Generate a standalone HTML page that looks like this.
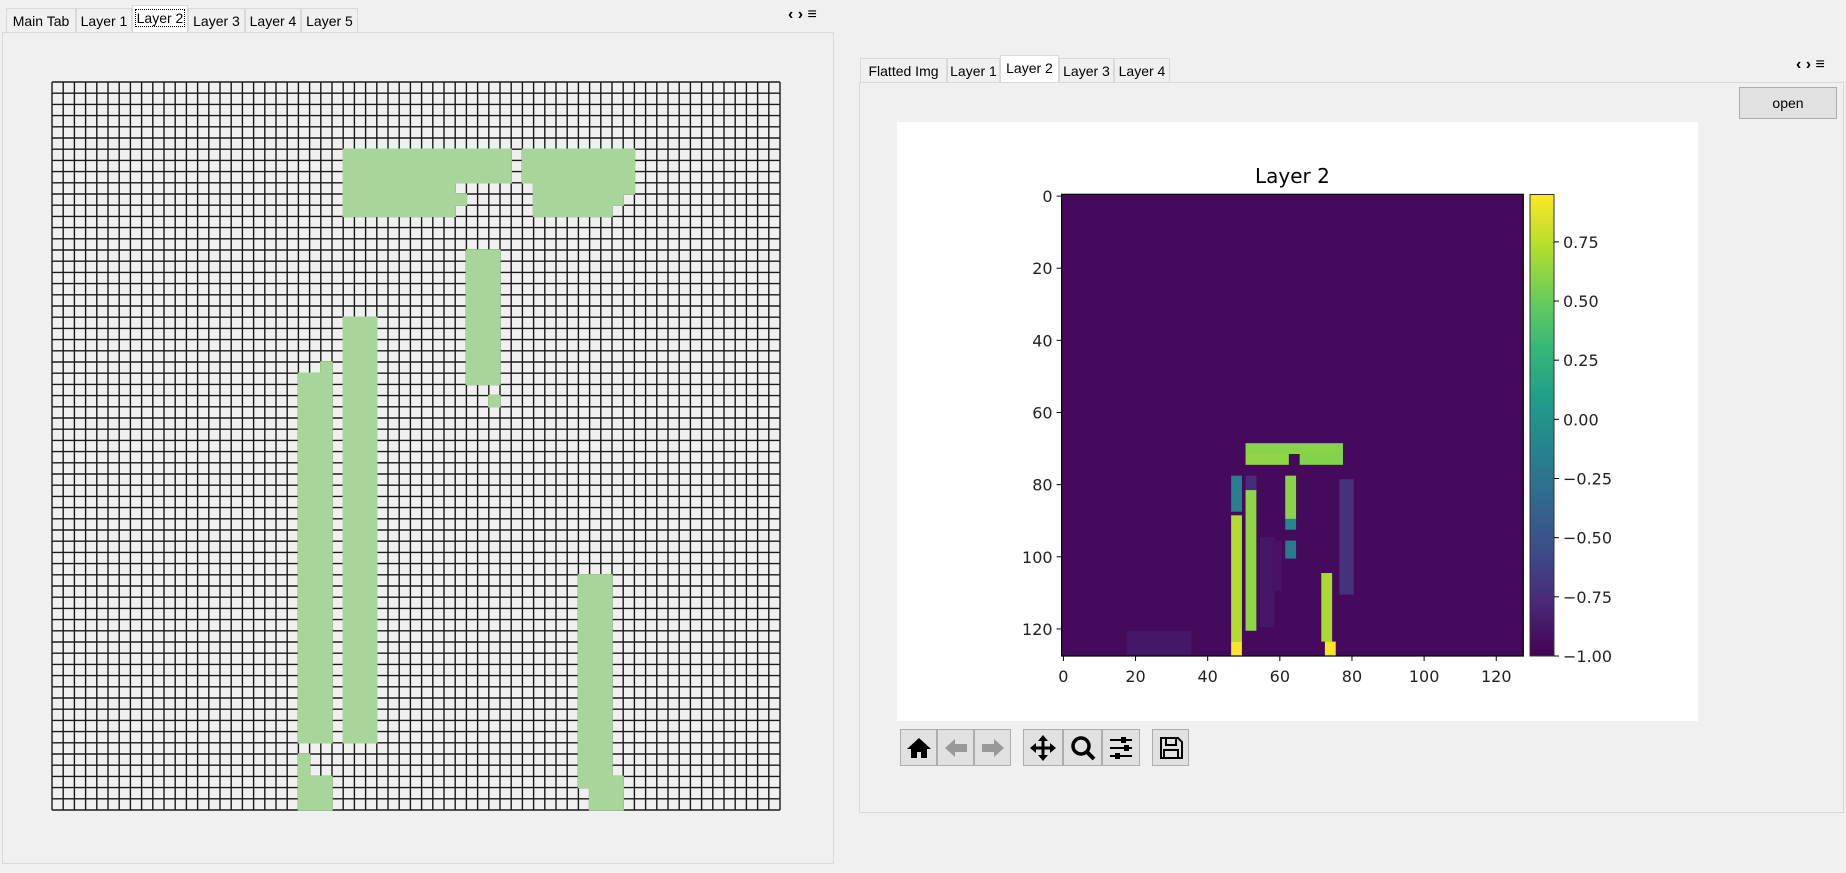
<!DOCTYPE html>
<html><head><meta charset="utf-8"><style>
html,body{margin:0;padding:0;}
body{width:1846px;height:873px;background:#f0f0f0;position:relative;overflow:hidden;font-family:"Liberation Sans",sans-serif;}
.tab{position:absolute;height:24px;border:1px solid #d9d9d9;border-bottom:none;background:#f0f0f0;font-size:14px;line-height:24px;text-align:center;color:#000;box-sizing:border-box;}
.tab.sel{background:#fff;height:27px;}
.pane{position:absolute;border:1px solid #d9d9d9;box-sizing:border-box;}
.nav{position:absolute;font-size:16px;font-weight:bold;}
.tb{position:absolute;top:729px;width:37px;height:37px;border:1px solid #adadad;background:#e1e1e1;box-sizing:border-box;display:flex;align-items:center;justify-content:center;}
</style></head><body>
<div class="pane" style="left:2px;top:32px;width:832px;height:832px;"></div>
<div class="tab" style="left:6px;top:8px;width:70px;">Main Tab</div>
<div class="tab" style="left:76px;top:8px;width:56px;">Layer 1</div>
<div class="tab sel" style="left:132px;top:5px;width:56px;"><span style="border:1px dotted #000;padding:0 1px;">Layer 2</span></div>
<div class="tab" style="left:188px;top:8px;width:57px;">Layer 3</div>
<div class="tab" style="left:245px;top:8px;width:56px;">Layer 4</div>
<div class="tab" style="left:301px;top:8px;width:57px;">Layer 5</div>
<div class="nav" style="left:788px;top:6px;">&#8249; &#8250; &#8801;</div>

<svg id="grid" style="position:absolute;left:0;top:0" width="840" height="870"></svg>

<div class="pane" style="left:859px;top:82px;width:985px;height:731px;"></div>
<div class="tab" style="left:860px;top:58px;width:87px;">Flatted Img</div>
<div class="tab" style="left:947px;top:58px;width:53px;">Layer 1</div>
<div class="tab sel" style="left:1000px;top:55px;width:59px;">Layer 2</div>
<div class="tab" style="left:1059px;top:58px;width:55px;">Layer 3</div>
<div class="tab" style="left:1114px;top:58px;width:56px;">Layer 4</div>
<div class="nav" style="left:1796px;top:56px;">&#8249; &#8250; &#8801;</div>
<div style="position:absolute;left:1739px;top:87px;width:98px;height:32px;border:1px solid #adadad;background:#e1e1e1;box-sizing:border-box;font-size:14px;text-align:center;line-height:30px;">open</div>

<div style="position:absolute;left:897px;top:122px;width:801px;height:599px;background:#fff;"></div>
<svg id="hm" style="position:absolute;left:0;top:0" width="1846" height="873"></svg>

<div class="tb" style="left:900px;"><svg width="26" height="24"><path d="M13 2 L25 13 L21 13 L21 22 L15 22 L15 16 L11 16 L11 22 L5 22 L5 13 L1 13 Z" fill="#000"/></svg></div>
<div class="tb" style="left:937px;"><svg width="26" height="24"><path d="M2 12 L12 3 L12 8 L24 8 L24 16 L12 16 L12 21 Z" fill="#999"/></svg></div>
<div class="tb" style="left:974px;"><svg width="26" height="24"><path d="M24 12 L14 3 L14 8 L2 8 L2 16 L14 16 L14 21 Z" fill="#999"/></svg></div>
<div class="tb" style="left:1023px;width:40px;"><svg width="28" height="28"><path d="M14 1 L19 7 L15.5 7 L15.5 12.5 L21 12.5 L21 9 L27 14 L21 19 L21 15.5 L15.5 15.5 L15.5 21 L19 21 L14 27 L9 21 L12.5 21 L12.5 15.5 L7 15.5 L7 19 L1 14 L7 9 L7 12.5 L12.5 12.5 L12.5 7 L9 7 Z" fill="#000"/></svg></div>
<div class="tb" style="left:1063px;width:39px;"><svg width="28" height="28"><circle cx="12" cy="12" r="8" stroke="#000" stroke-width="3.5" fill="none"/><path d="M17 17 L25 25" stroke="#000" stroke-width="4"/></svg></div>
<div class="tb" style="left:1102px;width:38px;"><svg width="28" height="28"><path d="M3 6H25M3 14H25M3 22H25" stroke="#000" stroke-width="2"/><rect x="14" y="3" width="5" height="6" fill="#000"/><rect x="17" y="11" width="5" height="6" fill="#000"/><rect x="8" y="19" width="5" height="6" fill="#000"/></svg></div>
<div class="tb" style="left:1152px;"><svg width="26" height="26"><path d="M3 3 H20 L24 7 V23 H3 Z" fill="none" stroke="#000" stroke-width="2"/><rect x="8" y="3" width="10" height="7" fill="none" stroke="#000" stroke-width="2"/><rect x="6" y="15" width="14" height="8" fill="none" stroke="#000" stroke-width="2"/></svg></div>

<script>
// ---------- Left grid data ----------
const gridSize = 65;
const activeCols0 = [26,26,36,42,43,43,43,37,39,22,24,26,22,23,47,48,50];
const activeRows0 = [6, 9, 10,6, 9, 10,11,15,28,26,25,21,60,62,44,63,62];
const activeCols1 = [40,35,36,51,51,50,49,39,39,24,24,28,22,24,49,50,50];
const activeRows1 = [8, 11,10,8, 9, 10,11,26,28,58,25,58,64,64,62,64,62];

// ---------- Heatmap data (rect regions: x0,y0,x1,y1 in pixel-index units, value) ----------
const hmX0 = [0,  18, 77, 47, 47, 47, 51, 51, 62, 62, 62, 72, 73, 51, 51, 66, 55, 58];
const hmY0 = [0,  121,79, 78, 89, 124,78, 82, 78, 90, 96, 105,124,69, 72, 72, 95, 96];
const hmX1 = [128,36, 81, 50, 50, 50, 54, 54, 65, 65, 65, 75, 76, 78, 63, 78, 59, 61];
const hmY1 = [128,128,111,88, 124,128,82, 121,90, 93, 101,124,128,72, 75, 75, 120,110];
const hmV  = [-0.95,-0.88,-0.72,-0.15,0.72,0.93,-0.75,0.62,0.6,-0.1,-0.2,0.7,0.93,0.6,0.62,0.58,-0.88,-0.9];
const xTicks = [0,20,40,60,80,100,120];
const yTicks = [0,20,40,60,80,100,120];
const cbTicks = [0.75,0.50,0.25,0.00,-0.25,-0.50,-0.75,-1.00];
const vMin = -1.0, vMax = 0.95;

const NS = "http://www.w3.org/2000/svg";
function mk(parent, tag, attrs){const e=document.createElementNS(NS,tag);for(const k in attrs)e.setAttribute(k,attrs[k]);parent.appendChild(e);return e;}

// grid
const g = document.getElementById('grid');
const gL=52,gT=82,cs=728/gridSize;
const gx=c=>gL+c*cs, gy=r=>gT+r*cs;
for(let i=0;i<=gridSize;i++){
  const l1=mk(g,'line',{x1:gx(i),y1:gT,x2:gx(i),y2:gy(gridSize),stroke:'#1a1a1a','stroke-width':1.4});
  
  
  const l2=mk(g,'line',{x1:gL,y1:gy(i),x2:gx(gridSize),y2:gy(i),stroke:'#1a1a1a','stroke-width':1.4});
  
  
}
for(let i=0;i<activeCols0.length;i++){
  const r=mk(g,'rect',{x:gx(activeCols0[i])-0.7,y:gy(activeRows0[i])-0.7,width:gx(activeCols1[i]+1)-gx(activeCols0[i])+1.4,height:gy(activeRows1[i]+1)-gy(activeRows0[i])+1.4,fill:'#a8d59a'});
  
  
}

// viridis
const VIR=[[68,1,84],[72,40,120],[62,74,137],[49,104,142],[38,130,142],[31,158,137],[53,183,121],[109,205,89],[180,222,44],[253,231,37]];
function vir(v){let t=(v-vMin)/(vMax-vMin);t=Math.max(0,Math.min(1,t))*(VIR.length-1);const i=Math.min(VIR.length-2,Math.floor(t)),f=t-i;const c=VIR[i].map((a,k)=>Math.round(a+(VIR[i+1][k]-a)*f));return `rgb(${c[0]},${c[1]},${c[2]})`;}

const h=document.getElementById('hm');
const aL=1061.6,aT=194.3,px=3.607;
const xS=d=>aL+(d+0.5)*px, yS=d=>aT+(d+0.5)*px;
const cbT=194.5,cbB=656,cbL=1530,cbR=1554;
const cbY=v=>cbB-(v-vMin)/(vMax-vMin)*(cbB-cbT);

const title=mk(h,'text',{x:aL+64*px,y:183,'font-family':'DejaVu Sans, sans-serif','font-size':20,'text-anchor':'middle',fill:'#000'});
title.textContent='Layer 2';



for(let i=0;i<hmV.length;i++){
  const r=mk(h,'rect',{x:xS(hmX0[i]-0.5),y:yS(hmY0[i]-0.5),width:(hmX1[i]-hmX0[i])*px,height:(hmY1[i]-hmY0[i])*px,fill:vir(hmV[i])});
  
  
}
const fr=mk(h,'rect',{x:aL,y:aT,width:128*px,height:128*px,fill:'none',stroke:'#000','stroke-width':1.2});



xTicks.forEach(t=>{
  const l=mk(h,'line',{x1:xS(t),x2:xS(t),y1:aT+128*px,y2:aT+128*px+5,stroke:'#000'});
  
  
  const tx=mk(h,'text',{x:xS(t),y:682,'font-family':'DejaVu Sans, sans-serif','font-size':16,'text-anchor':'middle',fill:'#222'});
  tx.textContent=t;
  
  
});
yTicks.forEach(t=>{
  const l=mk(h,'line',{x1:aL-5,x2:aL,y1:yS(t),y2:yS(t),stroke:'#000'});
  
  
  const tx=mk(h,'text',{x:aL-9,y:yS(t)+6,'font-family':'DejaVu Sans, sans-serif','font-size':16,'text-anchor':'end',fill:'#222'});
  tx.textContent=t;
  
  
});

// colorbar
const defs=mk(h,'defs',{});
const lg=mk(defs,'linearGradient',{id:'cbg',x1:0,y1:1,x2:0,y2:0});
VIR.forEach((c,i)=>mk(lg,'stop',{offset:i/(VIR.length-1),'stop-color':`rgb(${c[0]},${c[1]},${c[2]})`}));
const cb=mk(h,'rect',{x:cbL,y:cbT,width:cbR-cbL,height:cbB-cbT,fill:'url(#cbg)',stroke:'#333','stroke-width':1});


cbTicks.forEach(t=>{
  const l=mk(h,'line',{x1:cbR,x2:cbR+5,y1:cbY(t),y2:cbY(t),stroke:'#000'});
  
  
  const tx=mk(h,'text',{x:cbR+9,y:cbY(t)+6,'font-family':'DejaVu Sans, sans-serif','font-size':16,fill:'#222'});
  tx.textContent=(t<0?'\u2212':'')+Math.abs(t).toFixed(2);
  
  
});
</script>
</body></html>
